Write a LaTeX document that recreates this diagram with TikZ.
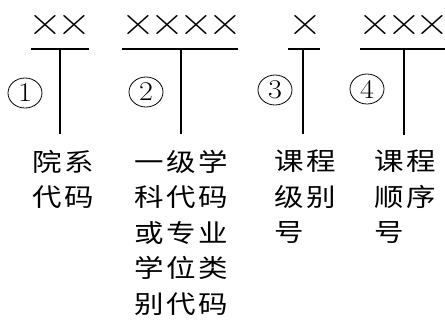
\documentclass[tikz,border=0pt]{standalone}
\usepackage{fontspec}
\usetikzlibrary{shapes.geometric}
\newfontfamily\cjk[FakeStretch=1.18,LetterSpace=10]{Noto Sans CJK SC}
\newfontfamily\dig[FakeStretch=1.12]{Latin Modern Roman}
\newcommand\crs{\makebox[28.8pt]{×}}
\begin{document}
\begin{tikzpicture}[x=1pt,y=-1pt,
  rule/.style={line width=2.2pt},
  marks/.style={inner sep=0pt,font=\dig\fontsize{42}{42}\selectfont},
  num/.style={ellipse,draw,line width=0.8pt,minimum width=34pt,minimum height=30pt,inner sep=0pt,font=\dig\fontsize{27}{27}\selectfont},
  lbl/.style={inner sep=0pt,anchor=north west,align=left,font=\cjk\fontsize{25}{35.5}\selectfont}]
\useasboundingbox (0,0) rectangle (445,322);
% groups of crosses
\node[marks] (x1) at (60,25) {\crs\crs};
\node[marks] (x2) at (182,25) {\crs\crs\crs\crs};
\node[marks] (x3) at (305,25) {\crs};
\node[marks] (x4) at (404,25) {\crs\crs\crs};
% rule coordinates
\coordinate (a1) at (31,49);  \coordinate (b1) at (89,49);
\coordinate (a2) at (122,49); \coordinate (b2) at (238,49);
\coordinate (a3) at (288,49); \coordinate (b3) at (320,49);
\coordinate (a4) at (360,49); \coordinate (b4) at (450,49);
\coordinate (t1) at (60,49);  \coordinate (e1) at (60,134);
\coordinate (t2) at (181,49); \coordinate (e2) at (181,134);
\coordinate (t3) at (303,49); \coordinate (e3) at (303,134);
\coordinate (t4) at (404,49); \coordinate (e4) at (404,135);
\draw[rule] (a1) -- (b1); \draw[rule] (t1) -- (e1);
\draw[rule] (a2) -- (b2); \draw[rule] (t2) -- (e2);
\draw[rule] (a3) -- (b3); \draw[rule] (t3) -- (e3);
\draw[rule] (a4) -- (b4); \draw[rule] (t4) -- (e4);
% circled numbers
\node[num] (n1) at (25,93) {1};
\node[num] (n2) at (146,92) {2};
\node[num] (n3) at (275,90) {3};
\node[num] (n4) at (367,89) {4};
% labels
\node[lbl] (l1) at (32,150) {院系\\代码};
\node[lbl] (l2) at (134,150) {一级学\\科代码\\或专业\\学位类\\别代码};
\node[lbl] (l3) at (274,150) {课程\\级别\\号};
\node[lbl] (l4) at (374,150) {课程\\顺序\\号};
\end{tikzpicture}
\end{document}
